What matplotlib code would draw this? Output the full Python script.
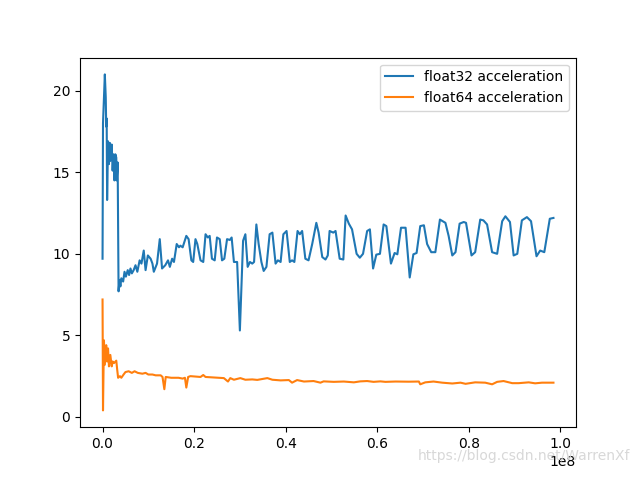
import numpy as np
import matplotlib
matplotlib.use("Agg")
from matplotlib import pyplot as plt

# x positions in millions
x32 = [0.0, 0.1, 0.3, 0.5, 0.7, 0.8, 0.9, 1.0, 1.2, 1.4, 1.6, 1.7, 2.0, 2.2, 2.4, 2.6, 2.8, 3.0, 3.1, 3.3,
       3.5, 3.7, 3.9, 4.1, 4.5, 4.8, 5.1, 5.5, 5.8, 6.1, 6.4, 6.8, 7.2, 7.6, 8.1, 8.5, 9.0, 9.4, 9.9,
       10.5, 10.9, 11.2, 11.9, 12.5, 13.0, 13.7, 14.3, 14.7, 15.2, 15.6, 16.2, 16.7, 17.0, 17.5, 18.3,
       18.8, 19.4, 19.8, 20.3, 20.7, 21.4, 22.0, 22.5, 23.0, 23.4, 23.9, 24.5, 25.0, 25.6, 26.1, 26.6,
       27.2, 27.8, 28.2, 28.7, 29.4, 30.0, 30.7, 31.2, 31.7, 32.2, 32.7, 33.1, 33.6, 34.1, 34.7, 35.2,
       35.8, 36.5, 37.1, 37.8, 38.3, 38.9, 39.5, 40.2, 40.9, 41.4, 41.9, 42.6, 43.1, 43.6, 44.3, 45.0,
       45.8, 46.7, 47.2, 48.0, 48.7, 49.2, 49.6, 50.4, 50.9, 51.8, 52.6, 53.1, 53.8, 54.5, 55.5, 56.2,
       56.9, 57.8, 58.4, 59.1, 59.8, 60.6, 61.4, 62.0, 63.0, 63.8, 64.4, 65.2, 66.2, 67.1, 67.9, 68.6,
       69.4, 70.2, 70.9, 71.8, 72.7, 73.7, 74.9, 75.6, 76.4, 77.1, 78.0, 78.9, 79.4, 80.6, 81.4, 82.5,
       83.2, 84.0, 85.1, 86.2, 87.3, 88.0, 89.0, 89.8, 90.6, 91.6, 92.7, 93.6, 94.8, 95.6, 96.5, 97.7,
       98.5]
acc32 = [9.7, 18.0, 19.5, 21.0, 19.6, 17.8, 18.3, 13.3, 16.9, 15.5, 16.8, 15.7, 16.7, 15.1, 16.1, 14.5, 16.1, 15.9, 14.5, 15.6,
         7.7, 8.4, 8.0, 8.5, 8.3, 8.9, 8.6, 9.0, 8.7, 9.1, 8.8, 9.0, 9.3, 8.9, 9.6, 9.4, 10.2, 9.0, 9.9,
         9.7, 9.4, 8.9, 9.4, 10.9, 9.1, 9.3, 9.6, 9.2, 9.7, 9.5, 10.6, 10.4, 10.5, 10.4, 11.1,
         10.9, 9.6, 9.5, 10.9, 10.6, 9.6, 9.5, 11.2, 11.0, 11.1, 9.7, 9.6, 11.0, 10.9, 9.6, 9.7,
         10.9, 10.85, 11.0, 9.5, 9.5, 5.3, 10.8, 11.2, 9.2, 9.5, 9.4, 9.5, 11.8, 10.6, 9.5, 8.95,
         9.2, 11.2, 11.3, 9.4, 9.6, 9.5, 11.2, 11.4, 9.5, 9.6, 9.5, 11.4, 11.2, 11.4, 9.7, 9.6,
         10.6, 11.9, 11.3, 9.8, 9.65, 9.9, 11.4, 11.3, 11.4, 9.7, 9.65, 12.35, 11.85, 11.5, 10.0, 9.76,
         10.0, 11.4, 11.5, 9.1, 9.95, 10.0, 11.8, 11.7, 9.4, 10.05, 9.97, 11.6, 11.6, 8.55, 9.97, 10.05,
         11.7, 11.75, 10.6, 10.1, 10.1, 12.1, 11.9, 11.1, 9.9, 10.1, 11.85, 11.95, 11.9, 9.9, 10.1, 12.1,
         12.05, 11.8, 10.1, 10.0, 12.0, 12.3, 11.95, 9.9, 10.0, 12.05, 12.25, 12.0, 9.85, 10.2, 10.1, 12.15,
         12.2]

x64 = [0.0, 0.1, 0.3, 0.5, 0.8, 1.0, 1.2, 1.4, 1.7, 2.0, 2.2, 2.5, 3.0, 3.2, 3.4, 3.8, 4.1, 4.6, 5.0,
       5.7, 6.4, 7.0, 7.7, 8.7, 9.4, 10.0, 10.9, 11.6, 12.7, 13.1, 13.5, 13.8, 15.0, 16.6, 17.5, 18.0,
       18.3, 18.7, 19.2, 21.4, 22.0, 22.5, 26.5, 27.4, 27.9, 28.7, 30.1, 31.2, 32.7, 33.8, 36.0, 37.1,
       38.9, 40.7, 41.4, 42.5, 44.0, 46.1, 47.6, 48.3, 50.5, 52.7, 54.9, 56.3, 57.8, 59.2, 60.7, 61.8,
       64.0, 66.9, 69.1, 69.4, 70.5, 72.3, 74.2, 76.4, 78.2, 79.3, 81.4, 83.6, 85.1, 86.2, 87.6, 89.5,
       90.9, 93.1, 94.5, 96.0, 97.4, 98.5]
acc64 = [7.2, 0.4, 4.7, 3.2, 4.4, 3.4, 4.2, 3.1, 3.8, 3.1, 3.4, 3.3, 3.45, 2.9, 2.4, 2.5, 2.4, 2.6, 2.75,
         2.8, 2.7, 2.8, 2.7, 2.65, 2.7, 2.6, 2.6, 2.55, 2.55, 2.45, 1.7, 2.45, 2.4, 2.4, 2.35, 2.4,
         1.8, 2.45, 2.5, 2.45, 2.57, 2.45, 2.38, 2.17, 2.38, 2.28, 2.38, 2.28, 2.3, 2.27, 2.38, 2.28,
         2.24, 2.26, 2.1, 2.26, 2.17, 2.2, 2.1, 2.18, 2.15, 2.17, 2.12, 2.18, 2.2, 2.15, 2.18, 2.15,
         2.17, 2.16, 2.17, 2.0, 2.12, 2.17, 2.1, 2.05, 2.1, 2.03, 2.12, 2.1, 2.0, 2.15, 2.2, 2.07,
         2.07, 2.12, 2.06, 2.1, 2.1, 2.1]

labels = ["float32 acceleration", "float64 acceleration"]

if __name__ == "__main__":
    fig = plt.figure(figsize=(6.4, 4.8), dpi=100)
    plt.plot(np.array(x32) * 1e6, acc32, label=labels[0])
    plt.plot(np.array(x64) * 1e6, acc64, label=labels[1])
    plt.legend(loc="upper right")
    fig.text(0.985, 0.035, "https://blog.csdn.net/WarrenXf", ha="right", va="bottom",
             color="#d8d8d8", fontsize=10)
    plt.savefig("out.png")
